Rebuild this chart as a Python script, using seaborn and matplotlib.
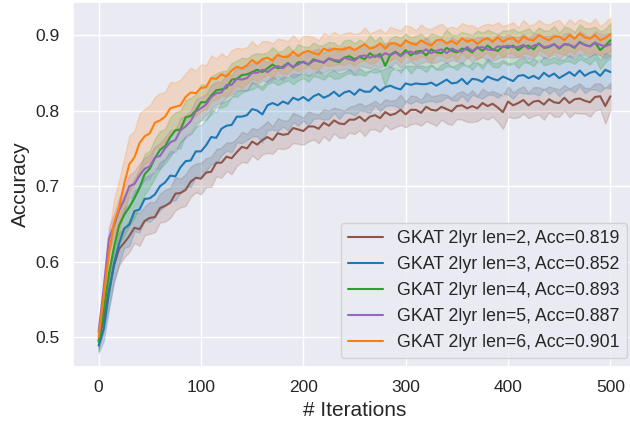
import matplotlib
matplotlib.use('Agg')
import matplotlib.pyplot as plt
import seaborn as sns
import pandas as pd

sns.set_theme(style='darkgrid')
plt.rcParams['font.family'] = ['Liberation Sans', 'DejaVu Sans']

# iterations, sampled every 5 steps
ITERS = list(range(0, 501, 5))

LABELS = ['GKAT 2lyr len=2, Acc=0.819', 'GKAT 2lyr len=3, Acc=0.852',
          'GKAT 2lyr len=4, Acc=0.893', 'GKAT 2lyr len=5, Acc=0.887',
          'GKAT 2lyr len=6, Acc=0.901']
COLORS = ['#8c564b', '#1f77b4', '#2ca02c', '#9467bd', '#ff7f0e']

# mean accuracy curves
len2 = [0.496, 0.524, 0.561, 0.595, 0.617, 0.625, 0.634, 0.645, 0.643, 0.654,
        0.658, 0.659, 0.671, 0.674, 0.678, 0.690, 0.691, 0.695, 0.706, 0.711,
        0.710, 0.718, 0.719, 0.731, 0.731, 0.739, 0.737, 0.745, 0.752, 0.750,
        0.759, 0.755, 0.761, 0.765, 0.761, 0.770, 0.768, 0.769, 0.777, 0.775,
        0.773, 0.779, 0.779, 0.776, 0.784, 0.780, 0.787, 0.783, 0.782, 0.788,
        0.788, 0.792, 0.786, 0.792, 0.794, 0.790, 0.798, 0.794, 0.796, 0.801,
        0.795, 0.801, 0.801, 0.797, 0.805, 0.801, 0.800, 0.805, 0.802, 0.799,
        0.806, 0.807, 0.803, 0.806, 0.803, 0.810, 0.806, 0.809, 0.804, 0.798,
        0.812, 0.807, 0.810, 0.814, 0.807, 0.812, 0.813, 0.808, 0.815, 0.811,
        0.810, 0.817, 0.810, 0.815, 0.816, 0.813, 0.811, 0.818, 0.819, 0.806,
        0.819]
len3 = [0.489, 0.511, 0.557, 0.597, 0.624, 0.644, 0.649, 0.667, 0.669, 0.683,
        0.684, 0.689, 0.700, 0.705, 0.714, 0.713, 0.725, 0.733, 0.734, 0.746,
        0.746, 0.754, 0.765, 0.764, 0.776, 0.780, 0.781, 0.792, 0.792, 0.794,
        0.802, 0.800, 0.795, 0.807, 0.810, 0.807, 0.812, 0.809, 0.817, 0.814,
        0.818, 0.813, 0.819, 0.822, 0.817, 0.820, 0.825, 0.819, 0.824, 0.826,
        0.821, 0.828, 0.825, 0.825, 0.832, 0.826, 0.831, 0.833, 0.830, 0.828,
        0.836, 0.834, 0.836, 0.835, 0.835, 0.837, 0.833, 0.837, 0.841, 0.836,
        0.837, 0.842, 0.835, 0.842, 0.841, 0.838, 0.845, 0.842, 0.840, 0.845,
        0.842, 0.839, 0.846, 0.847, 0.843, 0.846, 0.842, 0.850, 0.845, 0.849,
        0.843, 0.847, 0.851, 0.846, 0.853, 0.846, 0.850, 0.852, 0.846, 0.854,
        0.851]
len4 = [0.494, 0.534, 0.583, 0.619, 0.648, 0.662, 0.672, 0.684, 0.698, 0.716,
        0.723, 0.737, 0.748, 0.753, 0.765, 0.774, 0.775, 0.791, 0.793, 0.800,
        0.811, 0.811, 0.820, 0.827, 0.828, 0.830, 0.841, 0.842, 0.847, 0.848,
        0.851, 0.854, 0.851, 0.856, 0.861, 0.856, 0.858, 0.863, 0.857, 0.864,
        0.864, 0.861, 0.868, 0.865, 0.864, 0.869, 0.866, 0.864, 0.870, 0.872,
        0.868, 0.871, 0.868, 0.876, 0.871, 0.875, 0.859, 0.874, 0.878, 0.873,
        0.880, 0.873, 0.878, 0.879, 0.873, 0.881, 0.877, 0.876, 0.883, 0.879,
        0.877, 0.882, 0.881, 0.877, 0.884, 0.879, 0.886, 0.881, 0.879, 0.885,
        0.883, 0.886, 0.880, 0.885, 0.886, 0.881, 0.889, 0.883, 0.884, 0.888,
        0.882, 0.888, 0.887, 0.883, 0.891, 0.887, 0.885, 0.890, 0.880, 0.886,
        0.893]
len5 = [0.507, 0.564, 0.630, 0.648, 0.668, 0.682, 0.700, 0.703, 0.714, 0.723,
        0.726, 0.738, 0.740, 0.750, 0.758, 0.761, 0.774, 0.779, 0.786, 0.799,
        0.803, 0.808, 0.818, 0.823, 0.824, 0.834, 0.834, 0.842, 0.841, 0.843,
        0.850, 0.850, 0.854, 0.851, 0.856, 0.859, 0.856, 0.862, 0.858, 0.861,
        0.865, 0.861, 0.866, 0.866, 0.863, 0.869, 0.867, 0.866, 0.870, 0.868,
        0.866, 0.872, 0.873, 0.870, 0.873, 0.871, 0.876, 0.873, 0.877, 0.872,
        0.877, 0.878, 0.875, 0.877, 0.881, 0.876, 0.879, 0.881, 0.876, 0.882,
        0.879, 0.878, 0.884, 0.879, 0.883, 0.884, 0.881, 0.880, 0.885, 0.884,
        0.886, 0.884, 0.884, 0.887, 0.882, 0.886, 0.888, 0.884, 0.885, 0.888,
        0.883, 0.888, 0.887, 0.884, 0.890, 0.887, 0.885, 0.890, 0.887, 0.885,
        0.888]
len6 = [0.500, 0.555, 0.610, 0.651, 0.672, 0.703, 0.729, 0.738, 0.757, 0.766,
        0.770, 0.784, 0.787, 0.792, 0.803, 0.805, 0.807, 0.818, 0.824, 0.823,
        0.830, 0.831, 0.843, 0.842, 0.848, 0.845, 0.853, 0.858, 0.856, 0.860,
        0.867, 0.862, 0.868, 0.870, 0.866, 0.874, 0.871, 0.871, 0.878, 0.872,
        0.877, 0.879, 0.876, 0.874, 0.882, 0.879, 0.882, 0.881, 0.881, 0.884,
        0.880, 0.884, 0.888, 0.882, 0.884, 0.889, 0.882, 0.889, 0.889, 0.885,
        0.893, 0.889, 0.887, 0.893, 0.889, 0.886, 0.893, 0.894, 0.889, 0.892,
        0.888, 0.896, 0.891, 0.894, 0.888, 0.893, 0.896, 0.891, 0.897, 0.891,
        0.895, 0.896, 0.890, 0.898, 0.894, 0.893, 0.900, 0.896, 0.893, 0.898,
        0.898, 0.893, 0.900, 0.895, 0.902, 0.897, 0.895, 0.900, 0.893, 0.896,
        0.901]

# half-width of the shaded band around each curve
band2 = [0.012, 0.018, 0.021, 0.020, 0.022, 0.019, 0.021, 0.020, 0.022, 0.019,
         0.021, 0.020, 0.019, 0.021, 0.020, 0.022, 0.019, 0.021, 0.020, 0.019,
         0.021, 0.019, 0.020, 0.018, 0.020, 0.019, 0.021, 0.018, 0.020, 0.019,
         0.018, 0.020, 0.019, 0.021, 0.018, 0.020, 0.019, 0.018, 0.020, 0.019,
         0.018, 0.020, 0.017, 0.019, 0.018, 0.020, 0.017, 0.019, 0.018, 0.017,
         0.019, 0.018, 0.020, 0.017, 0.019, 0.018, 0.017, 0.019, 0.018, 0.020,
         0.017, 0.019, 0.018, 0.017, 0.019, 0.018, 0.020, 0.017, 0.019, 0.018,
         0.017, 0.019, 0.018, 0.021, 0.017, 0.019, 0.018, 0.017, 0.019, 0.022,
         0.020, 0.017, 0.019, 0.018, 0.017, 0.019, 0.018, 0.020, 0.017, 0.019,
         0.018, 0.017, 0.019, 0.018, 0.020, 0.017, 0.019, 0.018, 0.017, 0.023,
         0.018]
band3 = [0.010, 0.016, 0.022, 0.025, 0.027, 0.026, 0.028, 0.027, 0.030, 0.029,
         0.031, 0.030, 0.032, 0.031, 0.033, 0.032, 0.034, 0.033, 0.035, 0.033,
         0.035, 0.034, 0.036, 0.034, 0.035, 0.033, 0.036, 0.034, 0.035, 0.033,
         0.036, 0.034, 0.037, 0.033, 0.035, 0.034, 0.033, 0.035, 0.032, 0.034,
         0.031, 0.033, 0.030, 0.032, 0.029, 0.031, 0.028, 0.030, 0.027, 0.029,
         0.027, 0.028, 0.026, 0.028, 0.025, 0.027, 0.025, 0.026, 0.024, 0.026,
         0.024, 0.025, 0.023, 0.025, 0.023, 0.024, 0.022, 0.024, 0.023, 0.022,
         0.024, 0.022, 0.023, 0.021, 0.023, 0.022, 0.024, 0.021, 0.023, 0.022,
         0.021, 0.023, 0.022, 0.024, 0.021, 0.023, 0.022, 0.021, 0.023, 0.022,
         0.024, 0.021, 0.023, 0.022, 0.021, 0.023, 0.022, 0.024, 0.021, 0.023,
         0.022]
band4 = [0.012, 0.020, 0.024, 0.026, 0.025, 0.027, 0.024, 0.026, 0.025, 0.027,
         0.024, 0.026, 0.025, 0.023, 0.026, 0.024, 0.025, 0.023, 0.024, 0.022,
         0.024, 0.023, 0.025, 0.022, 0.024, 0.023, 0.022, 0.024, 0.023, 0.021,
         0.023, 0.022, 0.024, 0.021, 0.023, 0.022, 0.021, 0.023, 0.022, 0.024,
         0.021, 0.023, 0.022, 0.021, 0.023, 0.022, 0.024, 0.021, 0.023, 0.022,
         0.021, 0.023, 0.022, 0.024, 0.021, 0.023, 0.027, 0.022, 0.021, 0.023,
         0.022, 0.024, 0.021, 0.023, 0.022, 0.021, 0.023, 0.022, 0.024, 0.021,
         0.023, 0.022, 0.021, 0.023, 0.022, 0.024, 0.021, 0.023, 0.022, 0.021,
         0.023, 0.022, 0.024, 0.021, 0.023, 0.022, 0.021, 0.023, 0.022, 0.024,
         0.021, 0.023, 0.022, 0.021, 0.023, 0.022, 0.024, 0.021, 0.025, 0.022,
         0.023]
band5 = [0.010, 0.014, 0.016, 0.015, 0.017, 0.016, 0.015, 0.017, 0.016, 0.015,
         0.016, 0.015, 0.017, 0.015, 0.016, 0.014, 0.016, 0.015, 0.014, 0.016,
         0.015, 0.014, 0.016, 0.015, 0.014, 0.016, 0.013, 0.015, 0.014, 0.016,
         0.013, 0.015, 0.014, 0.013, 0.015, 0.014, 0.016, 0.013, 0.015, 0.014,
         0.013, 0.015, 0.014, 0.016, 0.013, 0.015, 0.014, 0.013, 0.015, 0.014,
         0.016, 0.013, 0.015, 0.014, 0.013, 0.015, 0.014, 0.016, 0.013, 0.015,
         0.014, 0.013, 0.015, 0.014, 0.016, 0.013, 0.015, 0.014, 0.013, 0.015,
         0.014, 0.016, 0.013, 0.015, 0.014, 0.013, 0.015, 0.014, 0.016, 0.013,
         0.015, 0.014, 0.013, 0.015, 0.014, 0.016, 0.013, 0.015, 0.014, 0.013,
         0.015, 0.014, 0.016, 0.013, 0.015, 0.014, 0.013, 0.015, 0.014, 0.016,
         0.015]
band6 = [0.008, 0.016, 0.026, 0.031, 0.036, 0.034, 0.038, 0.035, 0.039, 0.036,
         0.037, 0.034, 0.036, 0.033, 0.035, 0.032, 0.034, 0.031, 0.033, 0.030,
         0.031, 0.029, 0.030, 0.027, 0.028, 0.026, 0.027, 0.025, 0.026, 0.024,
         0.025, 0.023, 0.024, 0.022, 0.023, 0.021, 0.023, 0.021, 0.022, 0.020,
         0.022, 0.020, 0.021, 0.019, 0.021, 0.020, 0.022, 0.019, 0.021, 0.020,
         0.021, 0.019, 0.022, 0.020, 0.021, 0.019, 0.020, 0.022, 0.019, 0.021,
         0.020, 0.022, 0.019, 0.021, 0.020, 0.022, 0.019, 0.021, 0.020, 0.019,
         0.021, 0.020, 0.022, 0.019, 0.021, 0.020, 0.019, 0.022, 0.020, 0.021,
         0.019, 0.021, 0.020, 0.022, 0.019, 0.021, 0.020, 0.019, 0.021, 0.020,
         0.022, 0.019, 0.021, 0.020, 0.019, 0.021, 0.020, 0.022, 0.019, 0.021,
         0.022]

MEANS = [len2, len3, len4, len5, len6]
BANDS = [band2, band3, band4, band5, band6]

fig = plt.figure(figsize=(6.3, 4.23), dpi=100)
ax = fig.add_axes([73 / 630, 56 / 423, 563 / 630, 365 / 423])

for label, color, mean, band in zip(LABELS, COLORS, MEANS, BANDS):
    df = pd.DataFrame({'it': ITERS, 'acc': mean, 'hw': band})
    sns.lineplot(data=df, x='it', y='acc', color=color, label=label,
                 linewidth=1.5, ax=ax)
    ax.fill_between(df['it'], df['acc'] - df['hw'], df['acc'] + df['hw'],
                    color=color, alpha=0.2, linewidth=1)

ax.set_xlim(-25, 525)
ax.set_ylim(0.4607, 0.9437)
ax.set_xticks([0, 100, 200, 300, 400, 500])
ax.set_yticks([0.5, 0.6, 0.7, 0.8, 0.9])
ax.tick_params(labelsize=12.5)
ax.set_xlabel('# Iterations', fontsize=15)
ax.set_ylabel('Accuracy', fontsize=15)
ax.legend(loc='lower right', fontsize=12.8)

plt.savefig('out.png', dpi=100)
plt.close()
